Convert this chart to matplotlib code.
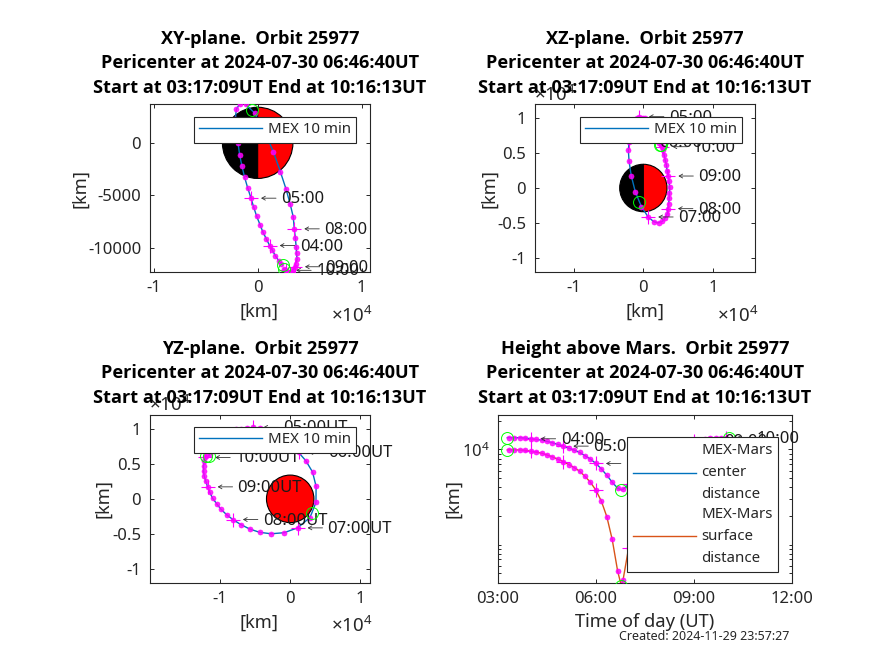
import matplotlib
matplotlib.use("Agg")
import matplotlib.pyplot as plt
from matplotlib.patches import Wedge, Circle
from matplotlib.transforms import offset_copy
import numpy as np

plt.rcParams['font.family'] = ['Noto Sans', 'DejaVu Sans']
plt.rcParams['mathtext.fontset'] = 'custom'
plt.rcParams['mathtext.rm'] = 'Noto Sans'
plt.rcParams['mathtext.default'] = 'regular'

W, H = 874, 655
DARK = '#262626'

times = ["03:20","03:30","03:40","03:50",
         "04:00","04:10","04:20","04:30","04:40","04:50",
         "05:00","05:10","05:20","05:30","05:40","05:50",
         "06:00","06:10","06:20","06:30","06:40","06:50",
         "07:00","07:10","07:20","07:30","07:40","07:50",
         "08:00","08:10","08:20","08:30","08:40","08:50",
         "09:00","09:10","09:20","09:30","09:40","09:50",
         "10:00","10:10"]
x_km = [2280,2020,1700,1410,
        1150,830,510,220,-100,-380,
        -640,-960,-1250,-1510,-1730,-1890,
        -2040,-2150,-2050,-1740,-1160,-280,
        690,1520,2175,2720,3120,3420,
        3520,3620,3700,3740,3790,3640,
        3580,3400,3300,3120,2980,2830,
        2740,2560]
y_km = [-11520,-11210,-10760,-10220,
        -9780,-9140,-8510,-7780,-6980,-6130,
        -5270,-4290,-3300,-2220,-1170,0,
        1190,2240,3190,3700,3680,2820,
        1050,-880,-2730,-4380,-5810,-7050,
        -8190,-9050,-9900,-10520,-11100,-11520,
        -11800,-12050,-12290,-12380,-12380,-12290,
        -12140,-12050]
z_km = [6400,7150,7750,8300,
        8800,9200,9600,9950,9980,10050,
        10190,10050,9650,9150,8500,7700,
        6620,5430,3830,1780,-520,-2670,
        -4140,-4830,-4980,-4770,-4290,-3670,
        -2950,-2290,-1480,-670,100,1000,
        1710,2480,3290,4000,4710,5430,
        5900,6080]
center_km = [13300,13290,13260,13200,
             12950,12740,12540,12140,11750,11290,
             10840,10330,9840,9300,8600,7900,
             7120,6250,5360,4520,3915,3817,
             4300,5100,6000,6850,7700,8500,
             9350,10000,10650,11200,11650,12050,
             12400,12700,13000,13150,13250,13300,
             13300]
mars_radius = 3390

start_t, peri_t, end_t = "03:17:09", "06:46:40", "10:16:13"
height_end_t = "10:04:30"
start_xyz = (2400, -11620, 6150)
peri_xyz = (-560, 3100, -1980)
end_xyz = (2520, -12000, 6150)
start_r, peri_r, end_r = 13300, 3760, 13300

hour_labels = ["04:00","05:00","06:00","07:00","08:00","09:00","10:00"]

def hours(s):
    p = [int(v) for v in s.split(':')] + [0]
    return p[0] + p[1]/60 + p[2]/3600

t_h = np.array([hours(s) for s in times])
x_a, y_a, z_a, r_a = map(np.array, (x_km, y_km, z_km, center_km))
t_r = t_h[:len(r_a)]
peri_i = np.searchsorted(t_h, hours(peri_t))

def path(vals, s, p, e):
    return np.concatenate([[s], vals[:peri_i], [p], vals[peri_i:], [e]])

t_path = path(t_r, hours(start_t), hours(peri_t), hours(height_end_t))

fig = plt.figure(figsize=(W/100, H/100), dpi=100)

def make_axes(l, t, r, b):
    ax = fig.add_axes([l/W, 1-b/H, (r-l)/W, (b-t)/H])
    ax.tick_params(which='both', direction='in', top=True, right=True, length=3,
                   width=0.7, color=DARK, labelcolor=DARK, labelsize=12, pad=6)
    for s in ax.spines.values():
        s.set_linewidth(0.8); s.set_color(DARK)
    return ax

def titles(first, cx, cy):
    txt = f"{first}  Orbit 25977\nPericenter at 2024-07-30 06:46:40UT\nStart at 03:17:09UT End at 10:16:13UT"
    fig.text(cx/W, 1-cy/H, txt, ha='center', va='center', fontsize=13.1, family='Open Sans',
             fontweight='bold', color='black', linespacing=1.45, zorder=20)

def labels(xl, xlpx, yl_x_px, yl_y_px):
    fig.text(xlpx[0]/W, 1-xlpx[1]/H, xl, ha='center', va='center', fontsize=13.2, color=DARK)
    fig.text(yl_x_px/W, 1-yl_y_px/H, '[km]', rotation=90, ha='center', va='center', fontsize=13.2, color=DARK)

def sci(px, py):
    fig.text(px/W, 1-py/H, r'$\times 10^{4}$', ha='left', va='center', fontsize=13.5, color=DARK)

def hour_note(ax, px, py, text):
    tip = offset_copy(ax.transData, fig=fig, x=10, y=0, units='dots')
    tail = offset_copy(ax.transData, fig=fig, x=25, y=0, units='dots')
    ax.annotate('', xy=(px, py), xycoords=tip, xytext=(px, py), textcoords=tail,
                arrowprops=dict(arrowstyle='->,head_length=0.25,head_width=0.14', lw=0.6, color='#333333',
                                shrinkA=0, shrinkB=0),
                annotation_clip=False, zorder=4)
    ax.annotate(text, (px, py), xytext=(30, -1), textcoords='offset pixels',
                va='center', ha='left', fontsize=12, color='#1a1a1a', annotation_clip=False, zorder=4)

def draw_orbit(ax, a, b, sp, ep, pp, suffix=''):
    ax.plot(path(a, sp[0], pp[0], ep[0]), path(b, sp[1], pp[1], ep[1]),
            color='#0072BD', lw=1, zorder=2, label='MEX 10 min')
    ax.plot(a, b, ls='none', marker='o', ms=3.6, mfc='#FF00FF', mec='#FF00FF', mew=0.5, alpha=0.85, zorder=3)
    for h in hour_labels:
        i = times.index(h)
        ax.plot(a[i], b[i], marker='+', ms=10, color='#FF00FF', mew=0.8, ls='none', zorder=3)
        hour_note(ax, a[i], b[i], h + suffix)
    for pt in (sp, pp, ep):
        ax.plot(pt[0], pt[1], marker='o', ms=8.6, mfc='none', mec='#00FF00', mew=0.7, ls='none', zorder=4)

def mars(ax, split=True):
    if split:
        ax.add_patch(Wedge((0, 0), mars_radius, 90, 270, fc='black', ec='black', lw=0.8, zorder=1))
        ax.add_patch(Wedge((0, 0), mars_radius, -90, 90, fc='red', ec='black', lw=0.8, zorder=1))
    else:
        ax.add_patch(Circle((0, 0), mars_radius, fc='red', ec='black', lw=0.8, zorder=1))

def legend_box(ax, l, t, linespacing=1.2, **kw):
    lg = ax.legend(loc='upper left', bbox_to_anchor=(l/W, 1-t/H), bbox_transform=fig.transFigure,
                   fontsize=10.8, frameon=True, fancybox=False, framealpha=1, edgecolor=DARK,
                   borderaxespad=0, **kw)
    lg.get_frame().set_linewidth(0.8)
    lg.set_zorder(10)
    for tx in lg.get_texts():
        tx.set_color(DARK)
        tx.set_linespacing(linespacing)
    return lg

legend_one = dict(handlelength=4.2, borderpad=0.36, handletextpad=0.36, labelspacing=0.2)

# XY
ax1 = make_axes(149.5, 104, 370, 272)
mars(ax1)
draw_orbit(ax1, x_a, y_a, start_xyz[:2], end_xyz[:2], peri_xyz[:2])
ax1.set_xlim(-10400, 10800); ax1.set_ylim(-12300, 3700)
ax1.set_xticks([-10000, 0, 10000]); ax1.set_xticklabels(['-1', '0', '1'])
ax1.set_yticks([-10000, -5000, 0]); ax1.set_yticklabels(['-10000', '-5000', '0'])
legend_box(ax1, 194, 117, **legend_one)
titles('XY-plane.', 260, 63.5)
labels('[km]', (259, 312), 80, 188)
sci(331, 316)

# XZ
ax2 = make_axes(534.5, 104, 755, 272)
mars(ax2)
draw_orbit(ax2, x_a, z_a, (start_xyz[0], start_xyz[2]), (end_xyz[0], end_xyz[2]), (peri_xyz[0], peri_xyz[2]))
ax2.set_xlim(-15600, 16000); ax2.set_ylim(-12000, 12000)
ax2.set_xticks([-10000, 0, 10000]); ax2.set_xticklabels(['-1', '0', '1'])
ax2.set_yticks([-10000, -5000, 0, 5000, 10000]); ax2.set_yticklabels(['-1', '-0.5', '0', '0.5', '1'])
legend_box(ax2, 580, 117, **legend_one)
titles('XZ-plane.', 645, 63.5)
labels('[km]', (645, 312), 489, 188)
sci(717, 316)
sci(534, 95)

# YZ
ax3 = make_axes(149.5, 414.7, 370, 583)
mars(ax3, split=False)
draw_orbit(ax3, y_a, z_a, (start_xyz[1], start_xyz[2]), (end_xyz[1], end_xyz[2]), (peri_xyz[1], peri_xyz[2]), suffix='UT')
ax3.set_xlim(-20100, 11400); ax3.set_ylim(-12000, 12000)
ax3.set_xticks([-10000, 0, 10000]); ax3.set_xticklabels(['-1', '0', '1'])
ax3.set_yticks([-10000, -5000, 0, 5000, 10000]); ax3.set_yticklabels(['-1', '-0.5', '0', '0.5', '1'])
legend_box(ax3, 194, 427, **legend_one)
titles('YZ-plane.', 260, 373.5)
labels('[km]', (259, 623), 103, 498)
sci(331, 626)
sci(149, 405)

# Height
ax4 = make_axes(498, 414.7, 791.7, 583)
r_path = path(r_a, start_r, peri_r, end_r)
ax4.plot(t_path, r_path, color='#0072BD', lw=1, zorder=2, label='MEX-Mars\ncenter\ndistance')
ax4.plot(t_path, r_path - mars_radius, color='#D95319', lw=1, zorder=2, label='MEX-Mars\nsurface\ndistance')
for vals in (r_a, r_a - mars_radius):
    ax4.plot(t_r, vals, ls='none', marker='o', ms=3.6, mfc='#FF00FF', mec='#FF00FF', mew=0.5, alpha=0.85, zorder=3)
    for h in hour_labels:
        i = times.index(h)
        ax4.plot(t_r[i], vals[i], marker='+', ms=10, color='#FF00FF', mew=0.8, ls='none', zorder=3)
    off = vals[0] - r_a[0]
    for tt, rr in ((hours(start_t), start_r), (hours(peri_t), peri_r), (hours(height_end_t), end_r)):
        ax4.plot(tt, rr + off, marker='o', ms=8.6, mfc='none', mec='#00FF00', mew=0.7, ls='none', zorder=4)
for h in hour_labels:
    i = times.index(h)
    hour_note(ax4, t_r[i], r_a[i], h)
ax4.set_yscale('log')
ax4.set_xlim(3, 12); ax4.set_ylim(394, 23200)
ax4.set_xticks([3, 6, 9, 12]); ax4.set_xticklabels(['03:00', '06:00', '09:00', '12:00'])
ax4.set_yticks([10000]); ax4.set_yticklabels([r'$10^{4}$'])
ax4.set_yticks([500, 600, 700, 800, 900, 1000, 2000, 3000, 4000, 5000, 6000, 7000, 8000, 9000, 20000], minor=True)
ax4.set_yticklabels([], minor=True)
ax4.tick_params(which='minor', length=2)
legend_box(ax4, 627, 437, linespacing=1.65, handlelength=4.2, borderpad=0.38, handletextpad=0.36, labelspacing=0.3)
titles('Height above Mars.', 645, 373.5)
labels('Time of day (UT)', (645, 622), 453, 498)

fig.text(619/W, 1-636/H, 'Created: 2024-11-29 23:57:27', ha='left', va='center', fontsize=9, color=DARK)

fig.savefig('out.png', dpi=100)
